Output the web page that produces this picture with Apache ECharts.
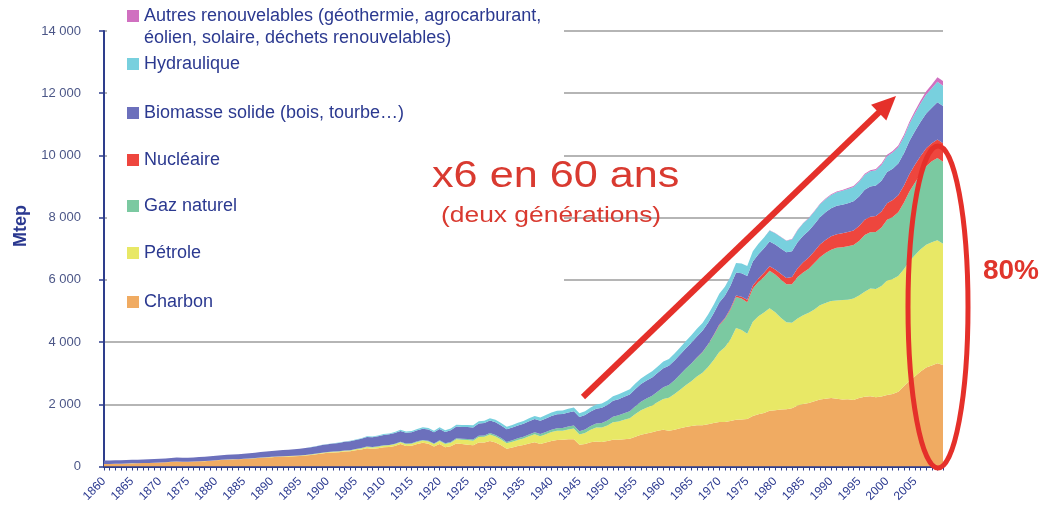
<!DOCTYPE html>
<html>
<head>
<meta charset="utf-8">
<title>Consommation mondiale d'énergie</title>
<script src="https://cdn.jsdelivr.net/npm/echarts@6/dist/echarts.min.js"></script>
<style>
  html, body { margin: 0; padding: 0; background: #fff; }
  #chart { width: 1045px; height: 508px; }
</style>
</head>
<body>
<div id="chart"></div>
<script>
(function(echarts) {
  'use strict';

  // années 1860 -> 2010
  var years = [];
  for (var y = 1860; y <= 2010; y++) {
    years.push(String(y));
  }

  // Mtep, une valeur par an
  var charbon = [
    80, 84, 88, 92, 96, 100, 104, 110, 114, 120,
    125, 135, 148, 160, 152, 150, 158, 165, 172, 182,
    200, 208, 218, 228, 232, 240, 248, 262, 278, 290,
    300, 312, 318, 322, 330, 340, 352, 372, 392, 420,
    440, 450, 458, 482, 488, 520, 548, 590, 570, 590,
    620, 630, 660, 720, 660, 670, 720, 760, 730, 640,
    720, 620, 650, 740, 720, 700, 680, 770, 770, 820,
    770, 680, 570, 610, 660, 690, 740, 780, 720, 770,
    820, 850, 860, 880, 880, 700, 720, 780, 800, 790,
    820, 860, 860, 880, 890, 960, 1020, 1060, 1100, 1150,
    1180, 1150, 1180, 1230, 1270, 1300, 1330, 1330, 1360, 1400,
    1430, 1430, 1460, 1500, 1510, 1530, 1620, 1680, 1720, 1790,
    1810, 1830, 1840, 1870, 1960, 2010, 2040, 2100, 2150, 2180,
    2200, 2180, 2150, 2160, 2140, 2200, 2240, 2260, 2230, 2250,
    2300, 2330, 2400, 2580, 2750, 2900, 3050, 3180, 3250, 3320,
    3260
  ];
  var petrole = [
    0, 0, 0, 0, 0, 1, 1, 1, 1, 1,
    1, 1, 2, 2, 2, 2, 2, 3, 3, 4,
    4, 5, 5, 5, 5, 6, 6, 7, 7, 8,
    9, 10, 11, 12, 12, 13, 14, 15, 17, 19,
    21, 23, 25, 27, 30, 32, 34, 38, 42, 45,
    48, 50, 53, 56, 58, 62, 68, 74, 76, 80,
    98, 102, 115, 140, 140, 148, 150, 175, 185, 205,
    195, 185, 175, 185, 195, 210, 230, 255, 255, 270,
    290, 300, 290, 310, 340, 330, 360, 400, 450, 460,
    500, 560, 590, 620, 660, 730, 790, 830, 860, 920,
    990, 1060, 1150, 1240, 1340, 1440, 1560, 1680, 1840, 2020,
    2250, 2400, 2620, 2950, 2880, 2740, 3030, 3150, 3230, 3300,
    3150, 2950, 2800, 2750, 2800, 2850, 2900, 2950, 3030, 3080,
    3120, 3160, 3200, 3200, 3260, 3300, 3380, 3460, 3480, 3550,
    3680, 3700, 3720, 3760, 3850, 3900, 3930, 3950, 3960, 3950,
    3900
  ];
  var gaz = [
    0, 0, 0, 0, 0, 0, 0, 0, 0, 0,
    0, 0, 0, 0, 0, 0, 0, 0, 0, 0,
    0, 0, 0, 0, 0, 1, 1, 1, 2, 2,
    2, 3, 3, 3, 4, 4, 5, 5, 6, 6,
    6, 7, 7, 8, 8, 9, 10, 11, 12, 13,
    14, 15, 16, 17, 18, 19, 20, 21, 20, 20,
    22, 22, 25, 30, 32, 35, 38, 42, 45, 50,
    50, 48, 46, 48, 52, 56, 60, 66, 68, 70,
    75, 80, 85, 92, 100, 105, 110, 120, 130, 145,
    160, 180, 195, 210, 225, 250, 275, 295, 315, 345,
    380, 410, 445, 485, 530, 570, 610, 660, 720, 790,
    860, 910, 960, 1000, 1010, 1010, 1070, 1100, 1140, 1200,
    1210, 1230, 1220, 1240, 1330, 1380, 1420, 1490, 1550, 1600,
    1650, 1690, 1700, 1720, 1720, 1750, 1820, 1810, 1830, 1880,
    1950, 1990, 2050, 2140, 2240, 2330, 2420, 2520, 2600, 2650,
    2640
  ];
  var nucleaire = [
    0, 0, 0, 0, 0, 0, 0, 0, 0, 0,
    0, 0, 0, 0, 0, 0, 0, 0, 0, 0,
    0, 0, 0, 0, 0, 0, 0, 0, 0, 0,
    0, 0, 0, 0, 0, 0, 0, 0, 0, 0,
    0, 0, 0, 0, 0, 0, 0, 0, 0, 0,
    0, 0, 0, 0, 0, 0, 0, 0, 0, 0,
    0, 0, 0, 0, 0, 0, 0, 0, 0, 0,
    0, 0, 0, 0, 0, 0, 0, 0, 0, 0,
    0, 0, 0, 0, 0, 0, 0, 0, 0, 0,
    0, 0, 0, 0, 0, 0, 0, 0, 0, 0,
    0, 0, 0, 0, 0, 5, 7, 9, 12, 16,
    22, 28, 36, 46, 60, 80, 96, 115, 135, 145,
    160, 185, 200, 230, 280, 330, 355, 380, 405, 420,
    430, 440, 445, 455, 465, 480, 495, 500, 510, 520,
    535, 545, 550, 545, 565, 575, 585, 580, 580, 590,
    590
  ];
  var biomasse = [
    110, 110, 112, 112, 114, 114, 116, 117, 118, 119,
    120, 122, 124, 126, 128, 130, 132, 135, 138, 142,
    145, 148, 152, 156, 160, 164, 168, 172, 176, 180,
    185, 190, 195, 200, 205, 212, 220, 228, 236, 244,
    252, 260, 268, 276, 284, 292, 300, 308, 316, 324,
    332, 338, 344, 350, 352, 354, 356, 358, 360, 362,
    366, 368, 372, 376, 380, 384, 388, 392, 396, 400,
    404, 406, 408, 410, 414, 418, 422, 426, 430, 436,
    442, 446, 450, 454, 458, 460, 466, 472, 480, 490,
    500, 510, 520, 530, 540, 552, 564, 576, 588, 600,
    612, 622, 632, 642, 652, 662, 672, 682, 692, 702,
    712, 722, 732, 742, 752, 762, 772, 782, 792, 800,
    808, 816, 824, 832, 840, 850, 860, 870, 880, 890,
    900, 910, 920, 930, 940, 950, 960, 970, 980, 990,
    1000, 1010, 1020, 1040, 1060, 1080, 1100, 1120, 1140, 1200,
    1200
  ];
  var hydraulique = [
    0, 0, 0, 0, 0, 0, 0, 0, 0, 0,
    0, 0, 0, 0, 0, 0, 0, 0, 0, 0,
    0, 0, 0, 0, 0, 0, 0, 0, 0, 0,
    1, 1, 2, 2, 3, 3, 4, 5, 6, 7,
    8, 10, 12, 14, 16, 18, 20, 22, 24, 26,
    28, 30, 33, 36, 38, 40, 43, 46, 48, 50,
    52, 54, 56, 58, 62, 66, 70, 74, 78, 80,
    80, 80, 82, 84, 88, 92, 96, 100, 104, 108,
    112, 116, 118, 120, 120, 118, 120, 126, 132, 138,
    145, 152, 158, 164, 170, 176, 182, 188, 195, 202,
    210, 216, 222, 228, 234, 240, 248, 255, 262, 270,
    278, 286, 294, 302, 312, 322, 328, 332, 342, 352,
    358, 364, 370, 378, 388, 396, 402, 408, 414, 420,
    430, 438, 446, 454, 462, 472, 480, 488, 496, 504,
    512, 518, 524, 530, 550, 570, 590, 610, 630, 660,
    650
  ];
  var autres = [
    0, 0, 0, 0, 0, 0, 0, 0, 0, 0,
    0, 0, 0, 0, 0, 0, 0, 0, 0, 0,
    0, 0, 0, 0, 0, 0, 0, 0, 0, 0,
    0, 0, 0, 0, 0, 0, 0, 0, 0, 0,
    0, 0, 0, 0, 0, 0, 0, 0, 0, 0,
    0, 0, 0, 0, 0, 0, 0, 0, 0, 0,
    0, 0, 0, 0, 0, 0, 0, 0, 0, 0,
    0, 0, 0, 0, 0, 0, 0, 0, 0, 0,
    0, 0, 0, 0, 0, 0, 0, 0, 0, 0,
    0, 0, 0, 0, 0, 0, 0, 0, 0, 0,
    0, 0, 0, 0, 0, 0, 0, 0, 0, 0,
    2, 2, 3, 3, 4, 4, 5, 5, 6, 6,
    7, 8, 9, 10, 12, 14, 16, 18, 20, 22,
    24, 26, 28, 30, 32, 34, 36, 38, 40, 44,
    48, 52, 56, 62, 70, 80, 92, 106, 120, 140,
    150
  ];

  var yTicks = [0, 14000, 2000];   // min, max, pas

  var FONT = '"Liberation Sans", Arial, sans-serif';
  var BLUE = '#2B3990';
  var RED = '#E5302A';

  // du bas vers le haut de la pile
  var layers = [
    { name: 'Charbon', data: charbon, color: '#F0AB62', legendY: 302 },
    { name: 'Pétrole', data: petrole, color: '#E8E866', legendY: 253 },
    { name: 'Gaz naturel', data: gaz, color: '#7BC9A1', legendY: 206 },
    { name: 'Nucléaire', data: nucleaire, color: '#EE463E', legendY: 160 },
    { name: 'Biomasse solide (bois, tourbe…)', data: biomasse, color: '#6C70BC', legendY: 113 },
    { name: 'Hydraulique', data: hydraulique, color: '#78D0DE', legendY: 64 },
    { name: 'Autres renouvelables (géothermie, agrocarburant, éolien, solaire, déchets renouvelables)',
      data: autres, color: '#D070C0', legendY: 16 }
  ];

  function spaced(v) {
    return String(v).replace(/\B(?=(\d{3})+(?!\d))/g, ' ');
  }

  var series = layers.map(function(l) {
    return {
      name: l.name,
      type: 'line',
      stack: 'total',
      data: l.data,
      symbol: 'none',
      showSymbol: false,
      smooth: false,
      itemStyle: { color: l.color },
      lineStyle: { width: 0 },
      areaStyle: { color: l.color, opacity: 1 },
      emphasis: { disabled: true }
    };
  });

  // une légende par ligne pour caler chaque entrée
  var legends = layers.map(function(l) {
    return {
      data: [l.name],
      orient: 'vertical',
      left: 127,
      top: l.legendY - 9,
      padding: 0,
      icon: 'rect',
      itemWidth: 12,
      itemHeight: 12,
      selectedMode: false,
      formatter: function(name) {
        return name.indexOf('Autres') === 0 ?
          'Autres renouvelables (géothermie, agrocarburant,' : name;
      },
      textStyle: { fontFamily: FONT, fontSize: 18, color: BLUE }
    };
  });

  // flèche
  var tail = [583, 397], tip = [896, 96];
  var dx = tip[0] - tail[0], dy = tip[1] - tail[1];
  var len = Math.sqrt(dx * dx + dy * dy), ux = dx / len, uy = dy / len;
  var headL = 24, headW = 11;
  var bx = tip[0] - ux * headL, by = tip[1] - uy * headL;

  var option = {
    animation: false,
    backgroundColor: '#fff',
    grid: { left: 104, right: 102, top: 31, bottom: 41.5 },
    legend: legends,
    xAxis: {
      type: 'category',
      data: years,
      boundaryGap: false,
      axisLine: { lineStyle: { color: '#2E3D8C', width: 2 } },
      axisTick: { interval: 0, length: 4, lineStyle: { color: '#2E3D8C', width: 1 } },
      axisLabel: {
        interval: 4,
        rotate: 45,
        margin: 13,
        fontFamily: FONT,
        fontSize: 12,
        color: BLUE,
        formatter: function(v) { return v === '2010' ? '' : v; }
      },
      splitLine: { show: false }
    },
    yAxis: {
      type: 'value',
      min: yTicks[0],
      max: yTicks[1],
      interval: yTicks[2],
      axisLine: { show: true, lineStyle: { color: '#2E3D8C', width: 2 } },
      axisTick: { show: true, length: 5, lineStyle: { color: '#2E3D8C', width: 1.5 } },
      axisLabel: {
        margin: 23,
        fontFamily: FONT,
        fontSize: 13,
        color: '#4B5687',
        formatter: spaced
      },
      splitLine: { lineStyle: { color: '#9C9C9C', width: 1.5 } }
    },
    series: series,
    graphic: [
      // fond blanc derrière la légende
      { type: 'rect', z: 1, silent: true,
        shape: { x: 107, y: 0, width: 457, height: 320 },
        style: { fill: '#fff' } },
      { type: 'text', z: 5, silent: true,
        style: { x: 144, y: 38, text: 'éolien, solaire, déchets renouvelables)',
          font: '18px ' + FONT, fill: BLUE, textVerticalAlign: 'middle' } },
      { type: 'text', z: 5, silent: true, x: 21, y: 226, rotation: Math.PI / 2,
        style: { x: 0, y: 0, text: 'Mtep', font: 'bold 18px ' + FONT, fill: BLUE,
          textAlign: 'center', textVerticalAlign: 'middle' } },
      { type: 'text', z: 5, silent: true, x: 432, y: 177, scaleX: 1.2,
        style: { x: 0, y: 0, text: 'x6 en 60 ans', font: '36px ' + FONT, fill: '#D93A30',
          textVerticalAlign: 'middle' } },
      { type: 'text', z: 5, silent: true, x: 441, y: 216, scaleX: 1.2,
        style: { x: 0, y: 0, text: '(deux générations)', font: '22px ' + FONT, fill: '#D93A30',
          textVerticalAlign: 'middle' } },
      { type: 'line', z: 5, silent: true,
        shape: { x1: tail[0], y1: tail[1], x2: bx + ux * 2, y2: by + uy * 2 },
        style: { stroke: RED, lineWidth: 6 } },
      { type: 'polygon', z: 5, silent: true,
        shape: { points: [tip, [bx - uy * headW, by + ux * headW], [bx + uy * headW, by - ux * headW]] },
        style: { fill: RED } },
      { type: 'ellipse', z: 5, silent: true,
        shape: { cx: 938, cy: 307, rx: 30, ry: 161 },
        style: { fill: 'none', stroke: RED, lineWidth: 5 } },
      { type: 'text', z: 5, silent: true,
        style: { x: 1011, y: 271, text: '80%', font: 'bold 28px ' + FONT, fill: '#E0352C',
          textAlign: 'center', textVerticalAlign: 'middle' } }
    ]
  };

  var chart = echarts.init(document.getElementById('chart'), null, { renderer: 'canvas' });
  chart.setOption(option);

})(echarts);
</script>
</body>
</html>
